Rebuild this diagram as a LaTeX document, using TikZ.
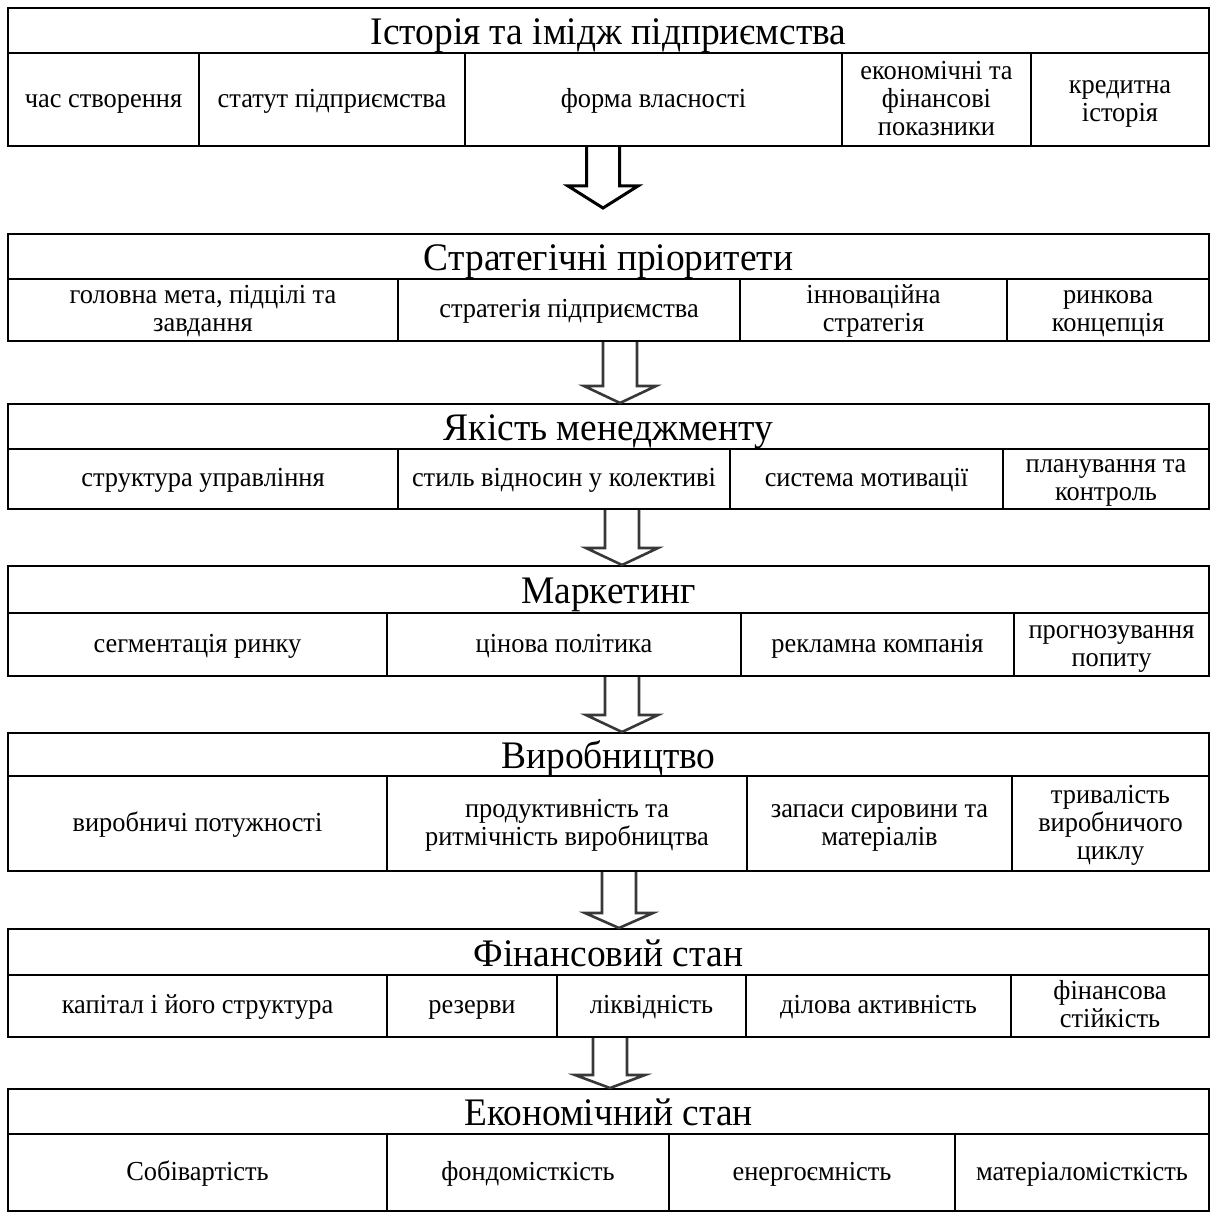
\documentclass[tikz,border=0pt]{standalone}
\usepackage{fontspec}
\setmainfont{Liberation Serif}[FakeStretch=0.96]
\newcommand\cellfnt{\fontsize{27.5}{28}\selectfont}
\newcommand\headfnt{\fontsize{39}{44}\selectfont}
\newcommand\mystrut{\rule[-0.22\baselineskip]{0pt}{\baselineskip}}
\tikzset{
  cellbox/.style={draw, line width=2.4pt, inner sep=0pt, align=center, font=\cellfnt},
  headbox/.style={draw, line width=2.4pt, inner sep=0pt, align=center, font=\headfnt,
                  text height=35pt, text depth=7pt},
  bigarrow/.style={draw, line width=3pt, line join=miter},
  softarrow/.style={draw, line width=2.6pt, black!78, line join=miter},
}
% \mkcell{name}{x1}{y1}{x2}{y2}{text}
\newcommand\mkcell[6]{%
  \pgfmathsetmacro\mycw{#4-#2}\pgfmathsetmacro\mych{#5-#3}%
  \node[cellbox, minimum width=\mycw pt, minimum height=\mych pt] (#1) at ({(#2+#4)/2},{(#3+#5)/2}) {\mystrut#6\mystrut};}
% \mkhead{name}{y1}{y2}{text}
\newcommand\mkhead[4]{%
  \pgfmathsetmacro\mych{#3-#2}%
  \node[headbox, minimum width=1201pt, minimum height=\mych pt] (#1) at (608.5,{(#2+#3)/2}) {#4};}
% \mkarrow{style}{cx}{ytop}{ywing}{ytip}{halfshaft}{halfhead}
\newcommand\mkarrow[7]{%
  \path[#1] ({#2-#6},#3) -- ({#2-#6},#4) -- ({#2-#7},#4) -- (#2,#5) -- ({#2+#7},#4) -- ({#2+#6},#4) -- ({#2+#6},#3);}
\begin{document}
\begin{tikzpicture}[x=1pt,y=-1pt]
\useasboundingbox (0,0) rectangle (1211,1214);
% ---- Block 1
\mkhead{h1}{8}{53}{Історія та імідж підприємства}
\mkcell{c11}{8}{53}{199}{146}{час створення}
\mkcell{c12}{199}{53}{465}{146}{статут підприємства}
\mkcell{c13}{465}{53}{842}{146}{форма власності}
\mkcell{c14}{842}{53}{1031}{146}{економічні та\\фінансові\\показники}
\mkcell{c15}{1031}{53}{1209}{146}{кредитна\\історія}
% ---- Block 2
\mkhead{h2}{234}{279}{Стратегічні пріоритети}
\mkcell{c21}{8}{279}{398}{341}{головна мета, підцілі та\\завдання}
\mkcell{c22}{398}{279}{740}{341}{стратегія підприємства}
\mkcell{c23}{740}{279}{1007}{341}{інноваційна\\стратегія}
\mkcell{c24}{1007}{279}{1209}{341}{ринкова\\концепція}
% ---- Block 3
\mkhead{h3}{404}{449}{Якість менеджменту}
\mkcell{c31}{8}{449}{398}{509}{структура управління}
\mkcell{c32}{398}{449}{730}{509}{стиль відносин у колективі}
\mkcell{c33}{730}{449}{1003}{509}{система мотивації}
\mkcell{c34}{1003}{449}{1209}{509}{планування та\\контроль}
% ---- Block 4
\mkhead{h4}{566}{613}{Маркетинг}
\mkcell{c41}{8}{613}{387}{676}{сегментація ринку}
\mkcell{c42}{387}{613}{741}{676}{цінова політика}
\mkcell{c43}{741}{613}{1014}{676}{рекламна компанія}
\mkcell{c44}{1014}{613}{1209}{676}{прогнозування\\попиту}
% ---- Block 5
\mkhead{h5}{733}{776}{Виробництво}
\mkcell{c51}{8}{776}{387}{871}{виробничі потужності}
\mkcell{c52}{387}{776}{747}{871}{продуктивність та\\ритмічність виробництва}
\mkcell{c53}{747}{776}{1012}{871}{запаси сировини та\\матеріалів}
\mkcell{c54}{1012}{776}{1209}{871}{тривалість\\виробничого\\циклу}
% ---- Block 6
\mkhead{h6}{929}{975}{Фінансовий стан}
\mkcell{c61}{8}{975}{387}{1037}{капітал і його структура}
\mkcell{c62}{387}{975}{557}{1037}{резерви}
\mkcell{c63}{557}{975}{746}{1037}{ліквідність}
\mkcell{c64}{746}{975}{1011}{1037}{ділова активність}
\mkcell{c65}{1011}{975}{1209}{1037}{фінансова\\стійкість}
% ---- Block 7
\mkhead{h7}{1089}{1134}{Економічний стан}
\mkcell{c71}{8}{1134}{387}{1211}{Собівартість}
\mkcell{c72}{387}{1134}{669}{1211}{фондомісткість}
\mkcell{c73}{669}{1134}{955}{1211}{енергоємність}
\mkcell{c74}{955}{1134}{1209}{1211}{матеріаломісткість}
% ---- Arrows
\mkarrow{bigarrow}{603}{147}{186}{208}{16.5}{35}
\mkarrow{softarrow}{620}{342}{386}{403}{17}{36}
\mkarrow{softarrow}{622}{510}{548}{565}{17}{36}
\mkarrow{softarrow}{622}{677}{715}{732}{17}{36}
\mkarrow{softarrow}{619}{872}{913}{928}{17}{34}
\mkarrow{softarrow}{610}{1038}{1075}{1088}{17}{35}
\end{tikzpicture}
\end{document}
